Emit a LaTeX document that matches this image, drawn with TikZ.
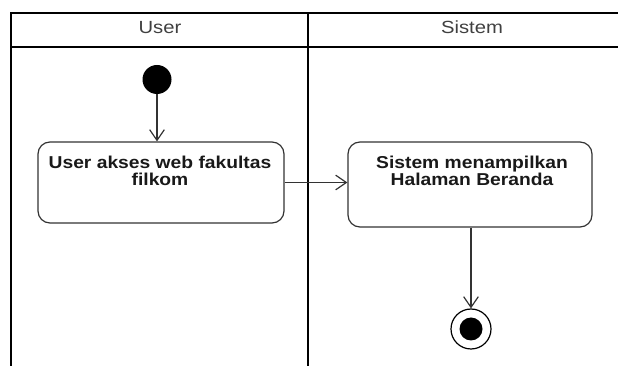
\documentclass[tikz,border=0pt]{standalone}
\usepackage{fontspec}
\setmainfont{Liberation Sans}
\newfontfamily\boxfont[FakeStretch=1.12]{Liberation Sans}
\newfontfamily\headfont[FakeStretch=1.15]{Liberation Sans}
\usetikzlibrary{arrows.meta}
\begin{document}
\begin{tikzpicture}[x=0.75pt,y=-0.75pt,
  lane/.style={line width=2.2pt,black},
  actbox/.style={draw=black!80,line width=0.9pt,rounded corners=9pt,inner sep=0pt},
  acttext/.style={font=\boxfont\bfseries\fontsize{12.9}{13.2}\selectfont,text=black!90,align=center,anchor=north,inner sep=0pt},
  head/.style={font=\headfont\fontsize{13.2}{14}\selectfont,text=black!75},
  flow/.style={draw=black!80,line width=0.9pt,-{Straight Barb[length=8pt,width=11pt]}}]
\useasboundingbox (0,0) rectangle (618,366);
% swimlane frame
\draw[lane] (618,13) -- (11,13) -- (11,366);
\draw[lane] (11,47) -- (618,47);
\draw[lane] (308,13) -- (308,366);
\node[head,anchor=base] (hu) at (160,34) {User};
\node[head,anchor=base] (hs) at (472,34) {Sistem};
% nodes
\node[circle,fill=black,minimum size=29*0.75pt,inner sep=0pt] (start) at (157,79.5) {};
\node[actbox,minimum width=246*0.75pt,minimum height=81*0.75pt] (b1) at (161,182.5) {};
\node[acttext] (t1) at (160,155.5) {User akses web fakultas\\filkom};
\node[actbox,minimum width=244*0.75pt,minimum height=85*0.75pt] (b2) at (470,184.5) {};
\node[acttext] (t2) at (472,155.5) {Sistem menampilkan\\Halaman Beranda};
\node[circle,draw=black,line width=0.9pt,minimum size=40*0.75pt,inner sep=0pt] (fin) at (471,329) {};
\node[circle,fill=black,minimum size=23*0.75pt,inner sep=0pt] (finin) at (fin.center) {};
% connectors
\draw[flow] (start.south) -- (start.south |- b1.north);
\draw[flow] (b1.east) -- (b1.east -| b2.west);
\draw[flow] (b2.south -| fin.north) -- (fin.north);
\end{tikzpicture}
\end{document}
